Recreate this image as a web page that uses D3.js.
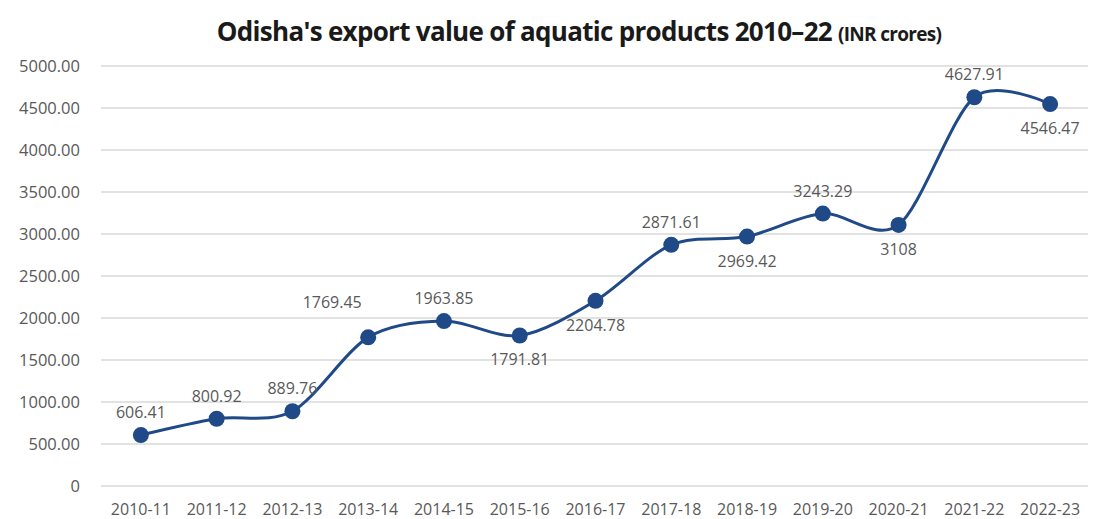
<!DOCTYPE html>
<html>
<head>
<meta charset="utf-8">
<script src="https://cdn.jsdelivr.net/npm/d3@7"></script>
<style>
  body { margin: 0; background: #fff; }
  text { font-family: "Open Sans", sans-serif; }
</style>
</head>
<body>
<div id="chart"></div>
<script>
// data
var years = ["2010-11", "2011-12", "2012-13", "2013-14", "2014-15", "2015-16", "2016-17",
  "2017-18", "2018-19", "2019-20", "2020-21", "2021-22", "2022-23"];
var values = [606.41, 800.92, 889.76, 1769.45, 1963.85, 1791.81, 2204.78,
  2871.61, 2969.42, 3243.29, 3108, 4627.91, 4546.47];
var labels = ["606.41", "800.92", "889.76", "1769.45", "1963.85", "1791.81", "2204.78",
  "2871.61", "2969.42", "3243.29", "3108", "4627.91", "4546.47"];
var yTicks = [0, 500, 1000, 1500, 2000, 2500, 3000, 3500, 4000, 4500, 5000];

// where each value label sits relative to its dot
var labelSide = ["up", "up", "up", "left", "up", "down", "down", "up", "down", "up", "down", "up", "down"];

var width = 1100, height = 519;
var margin = { top: 66, right: 12, bottom: 33, left: 103 };

var svg = d3.select("#chart").append("svg")
  .attr("width", width)
  .attr("height", height);

var x = d3.scaleBand().domain(years).range([margin.left, width - margin.right]);
var y = d3.scaleLinear().domain([0, 5000]).range([height - margin.bottom, margin.top]);

function cx(d, i) { return x(years[i]) + x.bandwidth() / 2; }

// title
var title = svg.append("text")
  .attr("x", 579)
  .attr("y", 41)
  .attr("text-anchor", "middle")
  .attr("fill", "#1a1a1a")
  .style("font-weight", 700)
  .style("font-size", "26px")
  .style("letter-spacing", "-0.7px");
title.append("tspan").text("Odisha's export value of aquatic products 2010–22 ");
title.append("tspan").text("(INR crores)").style("font-size", "19px");

// gridlines
svg.append("g").selectAll("line")
  .data(yTicks)
  .enter().append("line")
  .attr("x1", margin.left - 2)
  .attr("x2", width - margin.right)
  .attr("y1", function(d) { return y(d); })
  .attr("y2", function(d) { return y(d); })
  .attr("stroke", "#d9d9d9")
  .attr("stroke-width", 1.3);

// y axis labels
svg.append("g").selectAll("text")
  .data(yTicks)
  .enter().append("text")
  .attr("x", 80)
  .attr("y", function(d) { return y(d) + 6; })
  .attr("text-anchor", "end")
  .attr("fill", "#595959")
  .style("font-size", "16.5px")
  .text(function(d) { return d === 0 ? "0" : d3.format(".2f")(d); });

// x axis labels
svg.append("g").selectAll("text")
  .data(years)
  .enter().append("text")
  .attr("x", function(d) { return x(d) + x.bandwidth() / 2; })
  .attr("y", 515)
  .attr("text-anchor", "middle")
  .attr("fill", "#595959")
  .style("font-size", "16px")
  .text(function(d) { return d; });

// smoothed line
var line = d3.line()
  .x(cx)
  .y(function(d) { return y(d); })
  .curve(d3.curveCardinal.tension(0.1));

svg.append("path")
  .datum(values)
  .attr("d", line)
  .attr("fill", "none")
  .attr("stroke", "#1f4a87")
  .attr("stroke-width", 3);

// dots
svg.append("g").selectAll("circle")
  .data(values)
  .enter().append("circle")
  .attr("cx", cx)
  .attr("cy", function(d) { return y(d); })
  .attr("r", 8)
  .attr("fill", "#1f4a87");

// value labels
svg.append("g").selectAll("text")
  .data(values)
  .enter().append("text")
  .attr("x", function(d, i) { return labelSide[i] === "left" ? cx(d, i) - 36 : cx(d, i); })
  .attr("y", function(d, i) {
    if (labelSide[i] === "up") return y(d) - 17;
    if (labelSide[i] === "down") return y(d) + 30;
    return y(d) - 29;
  })
  .attr("text-anchor", "middle")
  .attr("fill", "#595959")
  .style("font-size", "16px")
  .text(function(d, i) { return labels[i]; });
</script>
</body>
</html>
